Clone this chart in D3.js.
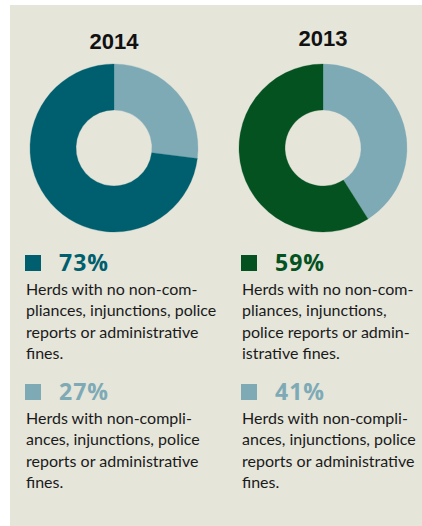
<!DOCTYPE html>
<html>
<head>
<meta charset="utf-8">
<script src="https://cdn.jsdelivr.net/npm/d3@7"></script>
<style>
  body { margin: 0; background: #fff; }
  svg { display: block; }
</style>
</head>
<body>
<div id="chart"></div>
<script>
// data
const years = ["2014", "2013"];
const cleanShare = [73, 59];      // no non-compliances
const flaggedShare = [27, 41];    // with non-compliances
const cleanText = [
  ["Herds with no non-com-", "pliances, injunctions, police", "reports or administrative", "fines."],
  ["Herds with no non-com-", "pliances, injunctions,", "police reports or admin-", "istrative fines."]
];
const flaggedText = [
  ["Herds with non-compli-", "ances, injunctions, police", "reports or administrative", "fines."],
  ["Herds with non-compli-", "ances, injunctions, police", "reports or administrative", "fines."]
];

const width = 422, height = 526;
const bg = "#e5e5da";
const light = "#7eaab6";
const dark = ["#005f6e", "#03521f"];

const svg = d3.select("#chart").append("svg")
  .attr("width", width)
  .attr("height", height);

svg.append("rect")
  .attr("x", 10).attr("y", 5)
  .attr("width", width - 10).attr("height", height - 5)
  .attr("fill", bg);

// column positions
const x = d3.scalePoint().domain(years).range([114, 323]);
const legendX = d3.scalePoint().domain(years).range([25, 241]);

const pie = d3.pie().sort(null).value(d => d.v);
const arc = d3.arc().innerRadius(38).outerRadius(84);

years.forEach((yr, i) => {
  const g = svg.append("g").attr("transform", `translate(${x(yr)},148)`);
  // light slice first clockwise from 12 o'clock
  const slices = pie([
    { v: flaggedShare[i], c: light },
    { v: cleanShare[i], c: dark[i] }
  ]);
  g.selectAll("path")
    .data(slices)
    .enter()
    .append("path")
    .attr("d", arc)
    .attr("fill", d => d.data.c)
    .attr("stroke", d => d.data.c)
    .attr("stroke-width", 0.3);

  svg.append("text")
    .attr("x", x(yr))
    .attr("y", i === 0 ? 49 : 46)
    .attr("text-anchor", "middle")
    .attr("font-family", "Liberation Sans, Arial, sans-serif")
    .attr("font-weight", "bold")
    .attr("font-size", 22)
    .attr("fill", "#111")
    .text(yr);

  const lx = legendX(yr);
  const blocks = [
    { top: 255, val: cleanShare[i], col: dark[i], lines: cleanText[i], base: 295 },
    { top: 384, val: flaggedShare[i], col: light, lines: flaggedText[i], base: 424 }
  ];
  blocks.forEach(b => {
    svg.append("rect")
      .attr("x", lx).attr("y", b.top)
      .attr("width", 16).attr("height", 16)
      .attr("fill", b.col);
    svg.append("text")
      .attr("x", lx + 34)
      .attr("y", b.top + 16)
      .attr("font-family", "Open Sans, sans-serif")
      .attr("font-weight", "bold")
      .attr("font-size", 23)
      .attr("letter-spacing", 1)
      .attr("fill", b.col)
      .text(b.val + "%");
    svg.append("text")
      .attr("font-family", "Lato, sans-serif")
      .attr("font-size", 16)
      .attr("fill", "#1a1a1a")
      .selectAll("tspan")
      .data(b.lines)
      .enter()
      .append("tspan")
      .attr("x", lx + 1)
      .attr("y", (d, k) => b.base + k * 21.4)
      .text(d => d);
  });
});
</script>
</body>
</html>
